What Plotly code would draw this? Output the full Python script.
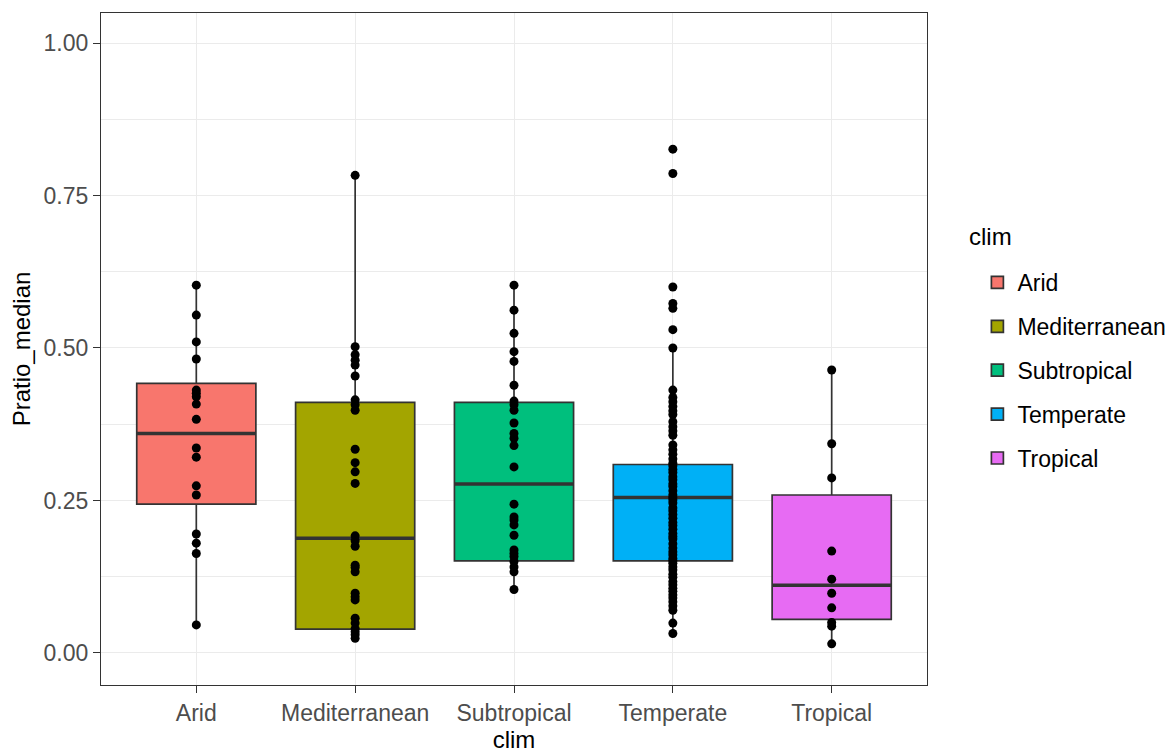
import plotly.graph_objects as go

categories = ["Arid", "Mediterranean", "Subtropical", "Temperate", "Tropical"]
colors = ["#F8766D", "#A3A500", "#00BF7D", "#00B0F6", "#E76BF3"]

arid = [0.603, 0.554, 0.510, 0.482, 0.431, 0.426, 0.420, 0.408, 0.383, 0.336,
        0.321, 0.274, 0.259, 0.195, 0.180, 0.163, 0.046]
mediterranean = [0.783, 0.502, 0.489, 0.480, 0.472, 0.454, 0.415, 0.407, 0.398,
                 0.334, 0.312, 0.297, 0.278, 0.192, 0.184, 0.175, 0.144, 0.140,
                 0.133, 0.098, 0.092, 0.087, 0.057, 0.049, 0.040, 0.035, 0.030, 0.024]
subtropical = [0.603, 0.562, 0.524, 0.494, 0.478, 0.439, 0.413, 0.407, 0.398,
               0.377, 0.360, 0.352, 0.340, 0.305, 0.244, 0.223, 0.218, 0.210,
               0.193, 0.169, 0.163, 0.158, 0.150, 0.141, 0.133, 0.104]
temperate = [0.826, 0.786, 0.600, 0.573, 0.565, 0.530, 0.500, 0.431, 0.419,
             0.412, 0.404, 0.397, 0.391, 0.379, 0.371, 0.364, 0.357, 0.341,
             0.333, 0.326, 0.318, 0.311, 0.307, 0.301, 0.296, 0.289, 0.284,
             0.277, 0.273, 0.266, 0.259, 0.255, 0.251, 0.246, 0.238, 0.233,
             0.227, 0.221, 0.214, 0.209, 0.203, 0.196, 0.191, 0.187, 0.179,
             0.172, 0.166, 0.161, 0.155, 0.151, 0.147, 0.141, 0.136, 0.129,
             0.124, 0.117, 0.112, 0.106, 0.101, 0.095, 0.090, 0.084, 0.077,
             0.070, 0.049, 0.032]
tropical = [0.464, 0.343, 0.287, 0.167, 0.121, 0.098, 0.074, 0.050, 0.044, 0.015]

points = [arid, mediterranean, subtropical, temperate, tropical]

# box statistics
q1 = [0.244, 0.039, 0.151, 0.151, 0.055]
median = [0.360, 0.188, 0.277, 0.255, 0.111]
q3 = [0.442, 0.411, 0.411, 0.309, 0.259]
lower = [0.046, 0.024, 0.104, 0.031, 0.015]
upper = [0.603, 0.783, 0.603, 0.500, 0.464]

y_ticks = [0, 0.25, 0.5, 0.75, 1.0]
y_ticklabels = ["0.00", "0.25", "0.50", "0.75", "1.00"]
y_minor = [0.125, 0.375, 0.625, 0.875]

box_width = 0.75
edge = "#333333"
font = "Liberation Sans, Arial, sans-serif"

fig = go.Figure()

for i, cat in enumerate(categories):
    fig.add_trace(go.Box(
        x=[i], q1=[q1[i]], median=[median[i]], q3=[q3[i]],
        lowerfence=[lower[i]], upperfence=[upper[i]],
        width=box_width, whiskerwidth=0, boxpoints=False,
        fillcolor=colors[i], line=dict(color=edge, width=1.7),
        name=cat, legendgroup=cat, hoverinfo="skip",
    ))

for i, cat in enumerate(categories):
    fig.add_trace(go.Scatter(
        x=[i - box_width / 2, i + box_width / 2], y=[median[i], median[i]],
        mode="lines", line=dict(color=edge, width=3.5),
        showlegend=False, hoverinfo="skip",
    ))

for i, cat in enumerate(categories):
    fig.add_trace(go.Scatter(
        x=[i] * len(points[i]), y=points[i], mode="markers",
        marker=dict(color="black", size=9),
        showlegend=False, name=cat,
    ))

fig.update_layout(
    width=1168, height=745,
    margin=dict(l=93, r=249, t=5, b=68),
    paper_bgcolor="white", plot_bgcolor="white",
    font=dict(family=font, color="black"),
    legend=dict(
        font=dict(size=23, color="black"),
        x=1.061, xanchor="left", y=0.631, yanchor="top",
        tracegroupgap=11, bgcolor="rgba(0,0,0,0)",
    ),
    annotations=[dict(
        text="clim", xref="paper", yref="paper", x=1.048, y=0.668,
        xanchor="left", yanchor="middle", showarrow=False,
        font=dict(size=24, color="black"),
    )],
    xaxis=dict(
        range=[-0.6, 4.6], tickvals=list(range(len(categories))), ticktext=categories,
        showgrid=True, gridcolor="#EBEBEB", gridwidth=1.1, zeroline=False,
        showline=True, mirror=True, linecolor=edge, linewidth=1.2,
        ticks="outside", ticklen=7, tickwidth=1.1, tickcolor=edge,
        tickfont=dict(size=23, color="#4D4D4D"),
        title=dict(text="clim", font=dict(size=24, color="black"), standoff=2),
    ),
    yaxis=dict(
        range=[-0.0525, 1.0492], tickvals=y_ticks, ticktext=y_ticklabels,
        showgrid=True, gridcolor="#EBEBEB", gridwidth=1.1, zeroline=False,
        showline=True, mirror=True, linecolor=edge, linewidth=1.2,
        ticks="outside", ticklen=7, tickwidth=1.1, tickcolor=edge,
        tickfont=dict(size=23, color="#4D4D4D"),
        minor=dict(tickvals=y_minor, showgrid=True, gridcolor="#EBEBEB",
                   gridwidth=0.6, ticks=""),
        title=dict(text="Pratio_median", font=dict(size=24, color="black"), standoff=8),
    ),
)

fig.write_html("out.html")
